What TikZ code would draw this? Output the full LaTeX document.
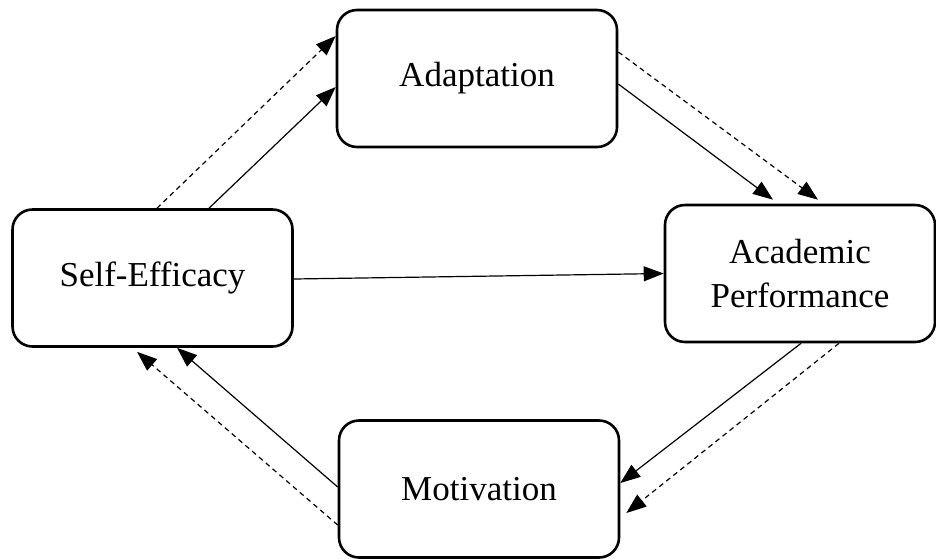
\documentclass[tikz,border=0pt]{standalone}
\usepackage{fontspec}
\setmainfont{Liberation Serif}
\usetikzlibrary{positioning}
\usetikzlibrary{arrows.meta}
\tikzset{block/.style={draw,line width=2.6pt,rounded corners=20pt,minimum width=280pt,minimum height=137pt,align=center,inner sep=0pt,font=\fontsize{35}{44}\selectfont}}
\tikzset{link/.style={->,line width=1.2pt}}
\tikzset{dlink/.style={->,line width=1.2pt,dash pattern=on 5pt off 4pt}}
\tikzset{>={Triangle[length=20pt,width=15pt]}}

\begin{document}
\begin{tikzpicture}[x=1pt,y=-1pt,on grid]
        \useasboundingbox (0,0) rectangle (936,558);

        \node[block] (eff) at (152.5,278) {Self-Efficacy};
        \node[block,above right=199.5pt and 324.5pt of eff] (adapt) {Adaptation};
        \node[block,minimum width=270pt,below right=195pt and 323pt of adapt] (perf) {Academic\\Performance};
        \node[block,below right=410.5pt and 2pt of adapt] (motiv) {Motivation};

        \draw[link] ([xshift=56.5pt]eff.north) -- ([yshift=-8.5pt]adapt.west);
        \draw[dlink] ([xshift=4.5pt]eff.north) -- ([yshift=42.5pt]adapt.west);

        \draw[link] ([yshift=-5.5pt]adapt.east) -- ([xshift=-27pt,yshift=4pt]perf.north);
        \draw[dlink] ([yshift=26.5pt]adapt.east) -- ([xshift=18pt,yshift=4pt]perf.north);

        \draw[link] ([yshift=-1pt]eff.east) -- (perf.west);

        \draw[link] ([xshift=1pt]perf.south) -- ([yshift=6pt]motiv.east);
        \draw[dlink] ([xshift=39pt]perf.south) -- ([xshift=6pt,yshift=-24pt]motiv.east);

        \draw[link] ([yshift=2pt]motiv.west) -- ([xshift=24.5pt]eff.south);
        \draw[dlink] ([yshift=-36pt]motiv.west) -- ([xshift=-15.5pt,yshift=-4pt]eff.south);
    \end{tikzpicture}
\end{document}
